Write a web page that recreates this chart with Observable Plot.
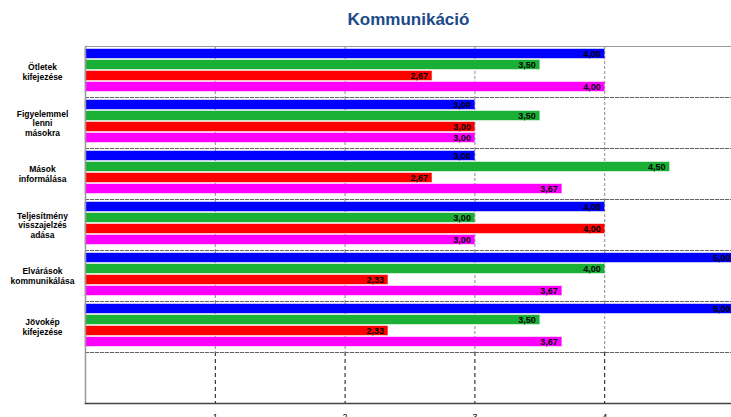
<!DOCTYPE html>
<html>
<head>
<meta charset="utf-8">
<script src="https://cdn.jsdelivr.net/npm/d3@7"></script>
<script src="https://cdn.jsdelivr.net/npm/@observablehq/plot@0.6"></script>
<style>
  html, body { margin: 0; padding: 0; background: #fff; overflow: hidden; width: 731px; height: 417px; }
  #title { height: 34px; box-sizing: border-box; padding-left: 86px; width: 731px; text-align: center;
           font-family: "Liberation Sans", Arial, sans-serif; font-weight: bold; font-size: 17px;
           color: #1A4A8A; line-height: 18px; padding-top: 11px; }
  #chart { width: 735px; }
  #chart svg { display: block; overflow: visible; max-width: none !important; }
</style>
</head>
<body>
<div id="title">Kommunikáció</div>
<div id="chart"></div>
<script>
const categories = [
  "Ötletek\nkifejezése",
  "Figyelemmel\nlenni\nmásokra",
  "Mások\ninformálása",
  "Teljesítmény\nvisszajelzés\nadása",
  "Elvárások\nkommunikálása",
  "Jövokép\nkifejezése"
];
const seriesNames = ["1. sorozat", "2. sorozat", "3. sorozat", "4. sorozat"];
const seriesColors = ["#0000FF", "#1AB036", "#FF0000", "#FF00FF"];
const series1 = [4.00, 3.00, 3.00, 4.00, 5.00, 5.00];
const series2 = [3.50, 3.50, 4.50, 3.00, 4.00, 3.50];
const series3 = [2.67, 3.00, 2.67, 4.00, 2.33, 2.33];
const series4 = [4.00, 3.00, 3.67, 3.00, 3.67, 3.67];
const xTicks = [1, 2, 3, 4];
const SPACER = " ";

const allSeries = [series1, series2, series3, series4];
const rows = [];
categories.forEach((c, i) => {
  allSeries.forEach((s, j) => rows.push({category: c, series: seriesNames[j], value: s[i]}));
});
const fyDomain = [...categories, SPACER];
const gridGroups = [];
categories.forEach(c => xTicks.forEach(t => gridGroups.push({fy: c, x: t})));
const gridSpacer = xTicks.map(t => ({fy: SPACER, x: t}));

const fmt = v => v.toFixed(2).replace(".", ",");

const chart = Plot.plot({
  width: 735,
  height: 395,
  marginLeft: 85,
  marginRight: 1,
  marginTop: 9,
  marginBottom: 23,
  style: {fontFamily: "Liberation Sans, Arial, sans-serif", background: "transparent"},
  x: {domain: [0, 5], axis: null},
  fy: {domain: fyDomain, padding: 0, axis: null},
  y: {domain: seriesNames, paddingInner: 0.15, paddingOuter: 0.27, align: 0.36, axis: null},
  color: {domain: seriesNames, range: seriesColors},
  marks: [
    Plot.ruleX(gridGroups, {x: "x", fy: "fy", stroke: "#8c8c8c", strokeDasharray: "3,2", strokeWidth: 1}),
    Plot.ruleX(gridSpacer, {x: "x", fy: "fy", stroke: "#111", strokeDasharray: "4,3", strokeWidth: 1}),
    Plot.frame({anchor: "bottom", stroke: "#666", strokeDasharray: "3,2", strokeWidth: 1.2}),
    Plot.barX(rows, {x: "value", y: "series", fy: "category", fill: "series",
                     stroke: "series", strokeOpacity: 0.45, strokeWidth: 1}),
    Plot.text(rows, {x: "value", y: "series", fy: "category", text: d => fmt(d.value),
                     textAnchor: "end", dx: -4, fontWeight: "bold", fontSize: 9, fill: "#000"}),
    Plot.axisFy({domain: categories, anchor: "left", tickSize: 0, tickPadding: 43, textAnchor: "middle",
                 fontWeight: "bold", fontSize: 8.5, lineHeight: 1.12, fill: "#000", label: null}),
    Plot.axisX({ticks: xTicks, tickFormat: d => String(d), anchor: "bottom", tickSize: 0, tickPadding: 10,
                fontSize: 9, label: null, fill: "#000"}),
    Plot.frame({anchor: "top", stroke: "#999", facet: "super"}),
    Plot.frame({anchor: "left", stroke: "#999", strokeWidth: 1.5, facet: "super"}),
    Plot.frame({anchor: "bottom", stroke: "#444", strokeWidth: 1.5, facet: "super"})
  ]
});
document.getElementById("chart").append(chart);
</script>
</body>
</html>
